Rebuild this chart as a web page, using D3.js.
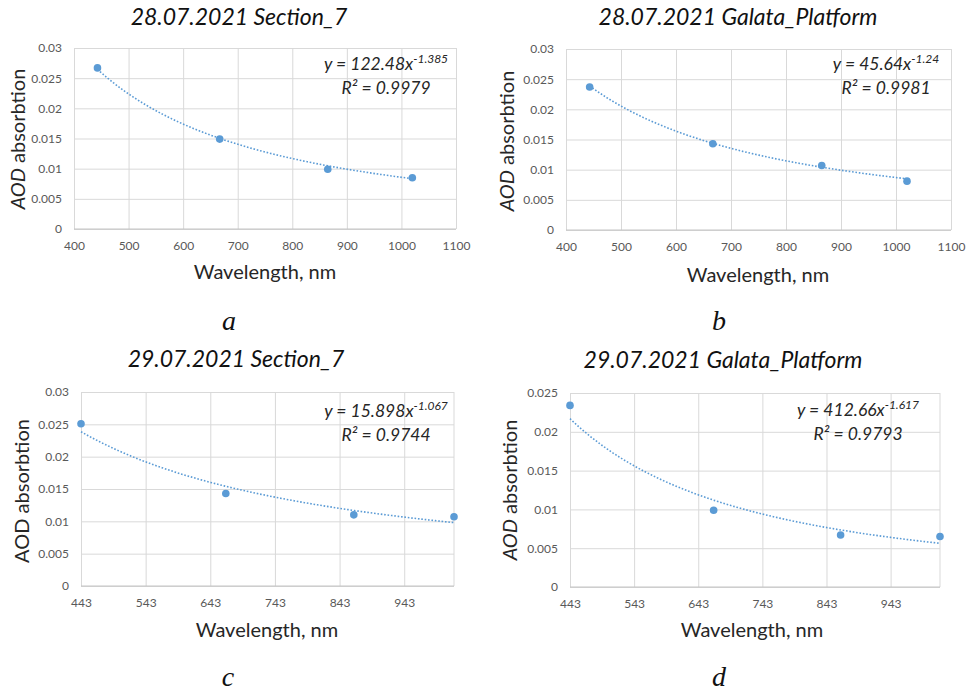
<!DOCTYPE html>
<html>
<head>
<meta charset="UTF-8">
<title>AOD absorbtion</title>
<script src="https://d3js.org/d3.v7.min.js"></script>
<style>
body { margin: 0; background: #fff; }
svg text { font-family: Lato, "Open Sans", sans-serif; }
</style>
</head>
<body>
<svg id="chart" width="967" height="694"></svg>
<script>
// data
var wavelengths = [443, 667, 865, 1020];
var aod28Section7 = [0.0267, 0.0149, 0.0099, 0.0085];
var aod28Galata = [0.0237, 0.0143, 0.0107, 0.0081];
var aod29Section7 = [0.0251, 0.0143, 0.0110, 0.0107];
var aod29Galata = [0.0234, 0.0099, 0.0067, 0.0065];
var titles = ["28.07.2021 Section_7", "28.07.2021 Galata_Platform", "29.07.2021 Section_7", "29.07.2021 Galata_Platform"];
var letters = ["a", "b", "c", "d"];
var fitCoef = [122.48, 45.64, 15.898, 412.66];
var fitExp = [-1.385, -1.24, -1.067, -1.617];
var fitCoefText = ["122.48", "45.64", "15.898", "412.66"];
var fitExpText = ["-1.385", "-1.24", "-1.067", "-1.617"];
var r2Text = ["0.9979", "0.9981", "0.9744", "0.9793"];
var xTicksWide = [400, 500, 600, 700, 800, 900, 1000, 1100];
var xTicksShort = [443, 543, 643, 743, 843, 943];
var yTicks30 = [0, 0.005, 0.01, 0.015, 0.02, 0.025, 0.03];
var yTicks25 = [0, 0.005, 0.01, 0.015, 0.02, 0.025];

var series = [aod28Section7, aod28Galata, aod29Section7, aod29Galata];

// layout of each panel (plot box + where the texts sit)
var panels = [
	{l: 74, r: 456, t: 48, b: 229, xd: [400, 1100], xt: xTicksWide, yd: [0, 0.03], yt: yTicks30,
	 title: [239, 25], ylab: [18, 139], xlab: [265, 279], eq: [386, 70], letter: [229, 330], italicAOD: true},
	{l: 566, r: 951, t: 49, b: 230, xd: [400, 1100], xt: xTicksWide, yd: [0, 0.03], yt: yTicks30,
	 title: [738, 25], ylab: [507, 141], xlab: [758, 282], eq: [886, 70], letter: [719, 330], italicAOD: true},
	{l: 81, r: 454, t: 392, b: 586, xd: [443, 1020], xt: xTicksShort, yd: [0, 0.03], yt: yTicks30,
	 title: [236, 367], ylab: [22, 491], xlab: [267, 637], eq: [386, 417], letter: [228, 686], italicAOD: false},
	{l: 570, r: 940, t: 393, b: 587, xd: [443, 1020], xt: xTicksShort, yd: [0, 0.025], yt: yTicks25,
	 title: [723, 368], ylab: [510, 490], xlab: [752, 637], eq: [858, 416], letter: [719, 686], italicAOD: true}
];

var blue = "#5b9bd5";
var svg = d3.select("#chart");

panels.forEach(function(p, i) {
	var g = svg.append("g");
	var x = d3.scaleLinear().domain(p.xd).range([p.l, p.r]);
	var y = d3.scaleLinear().domain(p.yd).range([p.b, p.t]);

	// y grid + labels
	var ya = g.append("g").attr("transform", "translate(" + p.l + ",0)")
		.call(d3.axisLeft(y).tickValues(p.yt).tickSize(-(p.r - p.l)).tickPadding(12)
			.tickFormat(function(d) { return String(+d.toFixed(3)); }));
	ya.select(".domain").remove();
	ya.selectAll("line").attr("stroke", "#d9d9d9");
	ya.selectAll("text").attr("fill", "#595959").style("font-size", "12px");

	// x grid + labels
	var xa = g.append("g").attr("transform", "translate(0," + p.b + ")")
		.call(d3.axisBottom(x).tickValues(p.xt).tickSize(-(p.b - p.t)).tickPadding(12)
			.tickFormat(d3.format("d")));
	xa.select(".domain").remove();
	xa.selectAll("line").attr("stroke", "#d9d9d9");
	xa.selectAll("text").attr("fill", "#595959").style("font-size", "12px");

	// right edge line for the short axes
	if (p.xd[1] != p.xt[p.xt.length - 1]) {
		g.append("line").attr("x1", p.r).attr("x2", p.r).attr("y1", p.t).attr("y2", p.b)
			.attr("stroke", "#d9d9d9");
	}
	// bottom axis line
	g.append("line").attr("x1", p.l).attr("x2", p.r).attr("y1", p.b).attr("y2", p.b)
		.attr("stroke", "#c4c4c4");

	// power trendline, from the fitted equation
	var fx = d3.range(0, 61).map(function(k) {
		return wavelengths[0] + (wavelengths[3] - wavelengths[0]) * k / 60;
	});
	var line = d3.line()
		.x(function(d) { return x(d); })
		.y(function(d) { return y(fitCoef[i] * Math.pow(d, fitExp[i])); });
	g.append("path").datum(fx).attr("d", line).attr("fill", "none")
		.attr("stroke", blue).attr("stroke-width", 1.6).attr("stroke-dasharray", "1.6,1.8");

	// points
	g.selectAll("circle").data(series[i]).enter().append("circle")
		.attr("cx", function(d, k) { return x(wavelengths[k]); })
		.attr("cy", function(d) { return y(d); })
		.attr("r", 3.8).attr("fill", blue);

	// equation
	var eq = g.append("text").attr("x", p.eq[0]).attr("y", p.eq[1])
		.attr("text-anchor", "middle").attr("fill", "#262626")
		.style("font-size", "17.5px").style("font-style", "italic");
	eq.append("tspan").text("y = " + fitCoefText[i] + "x");
	eq.append("tspan").attr("dy", -7).style("font-size", "12px").text(fitExpText[i]);
	g.append("text").attr("x", p.eq[0]).attr("y", p.eq[1] + 24)
		.attr("text-anchor", "middle").attr("fill", "#262626")
		.style("font-size", "17.5px").style("font-style", "italic")
		.text("R\u00b2 = " + r2Text[i]);

	// title
	g.append("text").attr("x", p.title[0]).attr("y", p.title[1])
		.attr("text-anchor", "middle").attr("fill", "#111")
		.style("font-size", "23px").style("font-style", "italic")
		.text(titles[i]);

	// axis titles
	g.append("text").attr("x", p.xlab[0]).attr("y", p.xlab[1])
		.attr("text-anchor", "middle").attr("fill", "#262626")
		.style("font-size", "20px").text("Wavelength, nm");
	var yl = g.append("text")
		.attr("transform", "translate(" + p.ylab[0] + "," + p.ylab[1] + ") rotate(-90)")
		.attr("text-anchor", "middle").attr("dy", "0.35em").attr("fill", "#262626")
		.style("font-size", "20px");
	yl.append("tspan").style("font-style", p.italicAOD ? "italic" : "normal").text("AOD");
	yl.append("tspan").text(" absorbtion");

	// panel letter
	g.append("text").attr("x", p.letter[0]).attr("y", p.letter[1])
		.attr("text-anchor", "middle").attr("fill", "#111")
		.style("font-family", "'Liberation Serif', 'Times New Roman', serif")
		.style("font-size", "28px").style("font-style", "italic")
		.text(letters[i]);
});
</script>
</body>
</html>
